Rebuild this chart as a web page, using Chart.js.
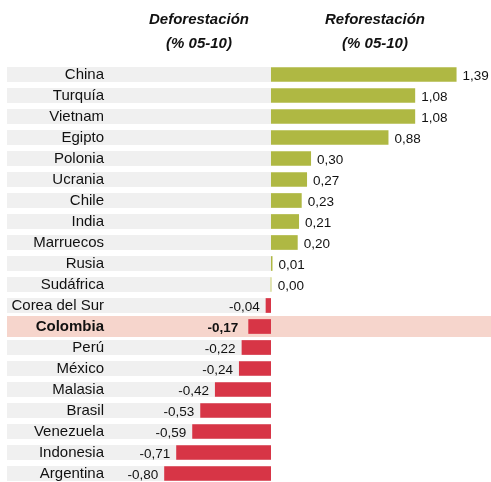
<!DOCTYPE html>
<html>
<head>
<meta charset="utf-8">
<script src="https://cdn.jsdelivr.net/npm/chart.js@4"></script>
<style>
  html, body { margin: 0; padding: 0; background: #fff; overflow: hidden; }
  #wrap { position: relative; width: 491px; height: 486px; }
</style>
</head>
<body>
<div id="wrap"><canvas id="grafica"></canvas></div>
<script>
// Datos: cambio en la cobertura forestal (% 05-10)
const paises = ['China', 'Turquía', 'Vietnam', 'Egipto', 'Polonia', 'Ucrania', 'Chile', 'India',
  'Marruecos', 'Rusia', 'Sudáfrica', 'Corea del Sur', 'Colombia', 'Perú', 'México', 'Malasia',
  'Brasil', 'Venezuela', 'Indonesia', 'Argentina'];
const cambio = [1.39, 1.08, 1.08, 0.88, 0.30, 0.27, 0.23, 0.21, 0.20, 0.01, 0.00, -0.04, -0.17,
  -0.22, -0.24, -0.42, -0.53, -0.59, -0.71, -0.80];
const destacado = 'Colombia';
const titulos = [['Deforestación', '(% 05-10)'], ['Reforestación', '(% 05-10)']];

const VERDE = '#afb843';
const ROJO = '#d73546';
const ROSA = '#f6d5cc';
const GRIS = '#f0f0f0';
const fuente = '"Liberation Sans", Arial, sans-serif';

const fmt = v => v.toFixed(2).replace('.', ',');
const iDest = paises.indexOf(destacado);

// filas grises detras de cada pais y franja de Colombia (antes de ejes y barras)
const fondoFilas = {
  id: 'fondoFilas',
  beforeDraw(chart) {
    const { ctx, scales: { x, y } } = chart;
    const cero = x.getPixelForValue(0);
    const paso = y.getPixelForValue(1) - y.getPixelForValue(0);
    ctx.save();
    paises.forEach((p, i) => {
      const yc = y.getPixelForValue(i);
      if (i === iDest) {
        ctx.fillStyle = ROSA;
        ctx.fillRect(7, yc - paso / 2, chart.width - 7, paso);
      } else {
        ctx.fillStyle = GRIS;
        ctx.fillRect(7, yc - 7.5, cero - 7, 15);
      }
    });
    ctx.restore();
  }
};

// etiquetas de valor y encabezados
const textos = {
  id: 'textos',
  afterDatasetsDraw(chart) {
    const { ctx, scales: { x } } = chart;
    const meta = chart.getDatasetMeta(0);
    ctx.save();
    ctx.fillStyle = '#111';
    ctx.textBaseline = 'middle';
    meta.data.forEach((bar, i) => {
      const v = cambio[i];
      ctx.font = (i === iDest ? 'bold ' : '') + '13.5px ' + fuente;
      if (v >= 0) {
        ctx.textAlign = 'left';
        ctx.fillText(fmt(v), Math.max(bar.x, bar.base) + 6, bar.y + 2);
      } else {
        ctx.textAlign = 'right';
        ctx.fillText(fmt(v), Math.min(bar.x, bar.base) - (i === iDest ? 10 : 6), bar.y + 2);
      }
    });
    const cero = x.getPixelForValue(0);
    ctx.font = 'italic bold 15px ' + fuente;
    ctx.textAlign = 'center';
    [cero - 72, cero + 104].forEach((cx, k) => {
      ctx.fillText(titulos[k][0], cx, 20);
      ctx.fillText(titulos[k][1], cx, 44);
    });
    ctx.restore();
  }
};

new Chart(document.getElementById('grafica'), {
  type: 'bar',
  data: {
    labels: paises,
    datasets: [{
      data: cambio,
      backgroundColor: ctx => {
        const v = cambio[ctx.dataIndex];
        if (v === 0) return '#d9dd9c';
        return v > 0 ? VERDE : ROJO;
      },
      borderWidth: 0,
      minBarLength: 1.5,
      barPercentage: 0.7,
      categoryPercentage: 1
    }]
  },
  options: {
    indexAxis: 'y',
    responsive: true,
    maintainAspectRatio: false,
    animation: false,
    layout: { padding: { top: 64, bottom: 2, left: 0, right: 0 } },
    scales: {
      x: {
        display: false,
        min: -1.206,
        max: 1.648
      },
      y: {
        afterFit: s => { s.width = 110; s.paddingTop = 0; s.paddingBottom = 0; },
        grid: { display: false, drawTicks: false },
        border: { display: false },
        ticks: {
          autoSkip: false,
          padding: 6,
          color: '#111',
          font: c => ({ family: fuente, size: 15, weight: c.index === iDest ? 'bold' : 'normal' })
        }
      }
    },
    plugins: {
      legend: { display: false },
      tooltip: { enabled: false }
    }
  },
  plugins: [fondoFilas, textos]
});
</script>
</body>
</html>
